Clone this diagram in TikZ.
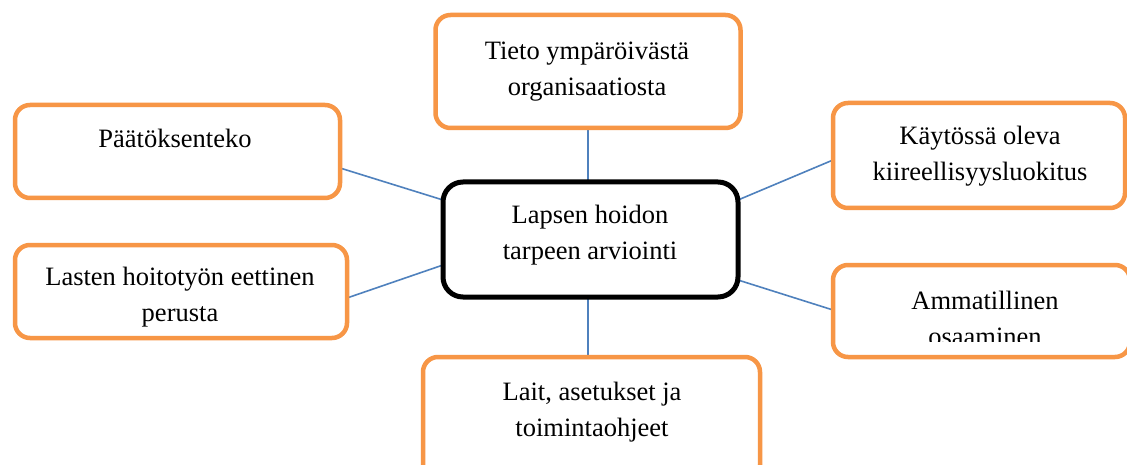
\documentclass[tikz,border=0pt]{standalone}
\usepackage{fontspec}
\setmainfont{Liberation Serif}
\usetikzlibrary{calc,backgrounds}
\definecolor{boxorange}{HTML}{F79646}
\definecolor{linkblue}{HTML}{4F81BD}
\begin{document}
\begin{tikzpicture}[x=1pt,y=-1pt,
  obox/.style={draw=boxorange,line width=4.5pt,rounded corners=15pt,fill=white,minimum width=#1,outer sep=0pt,inner sep=0pt},
  cbox/.style={draw=black,line width=5pt,rounded corners=20pt,fill=white,minimum width=295pt,minimum height=115pt,outer sep=0pt,inner sep=0pt},
  txt/.style={align=center,font=\fontsize{26.5}{36}\selectfont,inner sep=0pt},
  link/.style={draw=linkblue,line width=1.6pt}]
\clip (0,0) rectangle (1127,465);
% boxes
\node[obox=305pt,minimum height=113pt] (tb) at (588,71.5) {};
\node[obox=325pt,minimum height=93pt] (pd) at (177.5,151.5) {};
\node[obox=332pt,minimum height=93pt] (la) at (181,291.5) {};
\node[cbox] (c) at (590.5,239.5) {};
\node[obox=292pt,minimum height=105pt] (ky) at (979,155.5) {};
\node[obox=297pt,minimum height=92pt] (am) at (981.5,311) {};
\node[obox=337pt,minimum height=123pt] (bo) at (591.5,418.5) {};
% texts
\node[txt] (tbt) at (587,71.5) {Tieto ympäröivästä\\organisaatiosta};
\node[txt] (pdt) at (175,138) {Päätöksenteko};
\node[txt] (lat) at (180,297.5) {Lasten hoitotyön eettinen\\perusta};
\node[txt] (ct) at (590,235) {Lapsen hoidon\\tarpeen arviointi};
\node[txt] (kyt) at (980,156) {Käytössä oleva\\kiireellisyysluokitus};
\begin{scope}
\clip (840,270) rectangle (1120,341.5);
\node[txt] (amt) at (985,318) {Ammatillinen\\osaaminen};
\end{scope}
\node[txt] (bot) at (592,412) {Lait, asetukset ja\\toimintaohjeet};
% connectors
\begin{scope}[on background layer]
\fill[white] (0,0) rectangle (1127,465);
\coordinate (cn) at (588,0);
\draw[link] (tb.south -| cn) -- (c.north -| cn);
\draw[link] (c.south -| cn) -- (bo.north -| cn);
\draw[link] ($(pd.east)+(0,16.5)$) -- ($(c.west)+(0,-39.5)$);
\draw[link] ($(la.east)+(0,6.5)$) -- ($(c.west)+(0,25.5)$);
\draw[link] ($(ky.west)+(0,4.5)$) -- ($(c.east)+(0,-39.5)$);
\draw[link] ($(am.west)+(0,-1)$) -- ($(c.east)+(0,40.5)$);
\end{scope}
\end{tikzpicture}
\end{document}
